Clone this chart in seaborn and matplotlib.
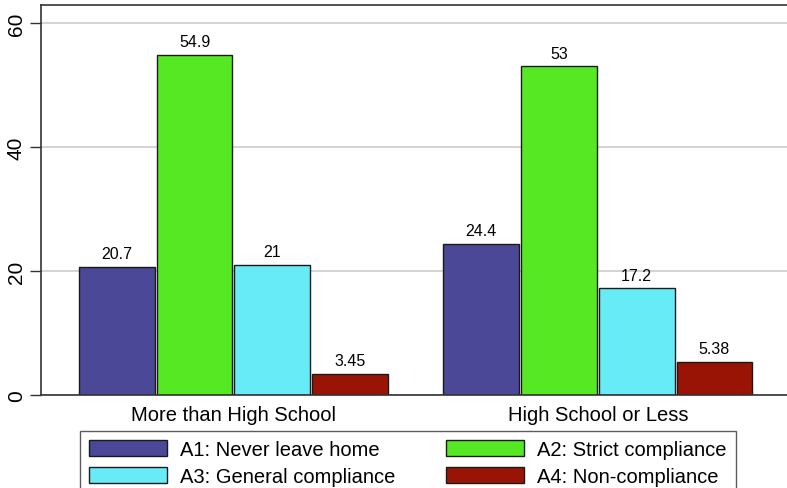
import numpy as np
import pandas as pd
import matplotlib.pyplot as plt
import seaborn as sns

groups = ['More than High School', 'High School or Less']
series = ['A1: Never leave home', 'A2: Strict compliance',
          'A3: General compliance', 'A4: Non-compliance']
values = {
    'A1: Never leave home': [20.7, 24.4],
    'A2: Strict compliance': [54.9, 53.0],
    'A3: General compliance': [21.0, 17.2],
    'A4: Non-compliance': [3.45, 5.38],
}
labels = {
    'A1: Never leave home': ['20.7', '24.4'],
    'A2: Strict compliance': ['54.9', '53'],
    'A3: General compliance': ['21', '17.2'],
    'A4: Non-compliance': ['3.45', '5.38'],
}
colors = ['#4b4897', '#57e824', '#66ebf7', '#9a1405']

df = pd.DataFrame([(g, s, values[s][i]) for s in series for i, g in enumerate(groups)],
                  columns=['group', 'series', 'value'])

sns.set_style('white')
plt.rcParams['font.family'] = ['Liberation Sans', 'DejaVu Sans']
plt.rcParams['text.color'] = 'black'
plt.rcParams['xtick.color'] = 'black'
plt.rcParams['ytick.color'] = 'black'

fig = plt.figure(figsize=(7.87, 4.89), dpi=100)
ax = fig.add_axes([41/787, 1 - 396/489, 1 - 41/787 + 0.02, 390/489])

sns.barplot(data=df, x='group', y='value', hue='series', order=groups, hue_order=series,
            palette=colors, width=0.853, gap=0.025, edgecolor='#1a1a1a', linewidth=1,
            saturation=1, legend=False, ax=ax)

for cont, s in zip(ax.containers, series):
    ax.bar_label(cont, labels=labels[s], padding=4, fontsize=11.5, color='black')

ax.set_ylim(0, 62.9)
ax.set_xlim(-0.528, 1.519 + 0.02 * 787 / 364.5)
ax.set_yticks([0, 20, 40, 60])
ax.yaxis.grid(True, color='#cccccc', linewidth=1.2)
ax.set_axisbelow(True)
ax.set_xlabel('')
ax.set_ylabel('')
ax.tick_params(axis='x', length=0, pad=7, labelsize=14.5)
ax.tick_params(axis='y', length=8, width=1, color='#333333', pad=3, labelsize=15, left=True)
for lab in ax.get_yticklabels():
    lab.set_rotation(90)
    lab.set_va('center')
for side in ['left', 'top', 'bottom']:
    ax.spines[side].set_color('#333333')
    ax.spines[side].set_linewidth(1.2)
ax.spines['right'].set_visible(False)

# legend fills row by row in the reference
order = [0, 2, 1, 3]
handles = [plt.Rectangle((0, 0), 1, 1, facecolor=colors[i], edgecolor='#1a1a1a', linewidth=1) for i in order]
fig.legend(handles, [series[i] for i in order], loc='upper left', bbox_to_anchor=(80/787, 1 - 432/489),
           ncol=2, fontsize=14.5, frameon=True, fancybox=False, edgecolor='#333333',
           handlelength=3.88, handleheight=0.85, handletextpad=0.65, columnspacing=2.5,
           labelspacing=0.38, borderpad=0.45, borderaxespad=0)

fig.savefig('out.png', dpi=100)
